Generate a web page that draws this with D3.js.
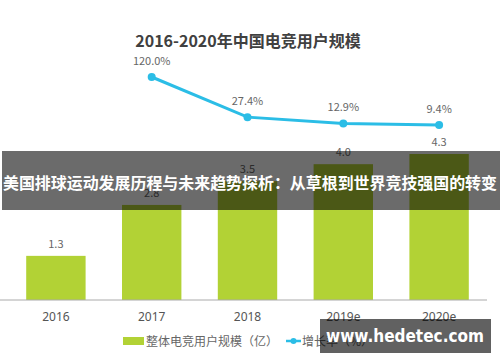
<!DOCTYPE html>
<html>
<head>
<meta charset="utf-8">
<script src="https://cdn.jsdelivr.net/npm/d3@7"></script>
<style>
  body { margin: 0; background: #fff; }
  svg { display: block; font-family: "Noto Sans CJK SC", "Noto Sans", sans-serif; }
</style>
</head>
<body>
<svg id="viz"></svg>
<script>
/* Data */

const years = ["2016", "2017", "2018", "2019e", "2020e"];
const users = [1.3, 2.8, 3.5, 4.0, 4.3];
const growthYears = ["2017", "2018", "2019e", "2020e"];
const growth = [120.0, 27.4, 12.9, 9.4];
const title = "2016-2020年中国电竞用户规模";
const banner = "美国排球运动发展历程与未来趋势探析：从草根到世界竞技强国的转变";
const legendBar = "整体电竞用户规模（亿）";
const legendLine = "增长率（%）";
const watermark = "www.hedetec.com";

/* Environment */

const width = 500;
const height = 362;
const baseline = 300;

const svg = d3.select('#viz')
    .attr('width', width)
    .attr('height', height);

/* Scales */

let x = d3.scaleBand()
    .domain(years)
    .range([8, 487])
    .paddingInner(0.38)
    .paddingOuter(0.19);

let y = d3.scaleLinear()
    .domain([0, 4.3])
    .range([baseline, 154]);

let yLine = d3.scaleLinear()
    .domain([0, 120])
    .range([129, 77]);

/* Title */

svg.append("text")
    .attr("x", 248)
    .attr("y", 47)
    .attr("text-anchor", "middle")
    .attr("font-size", 16)
    .attr("font-weight", "bold")
    .attr("fill", "#404040")
    .text(title);

/* Bars */

svg.append("g").selectAll("rect")
    .data(users)
    .enter().append("rect")
    .attr("x", (d, i) => x(years[i]))
    .attr("y", d => y(d))
    .attr("width", x.bandwidth())
    .attr("height", d => baseline - y(d))
    .attr("fill", "#b2d235");

svg.append("g").selectAll("text")
    .data(users)
    .enter().append("text")
    .attr("x", (d, i) => x(years[i]) + x.bandwidth() / 2)
    .attr("y", d => y(d) - 8)
    .attr("text-anchor", "middle")
    .attr("font-size", 11)
    .attr("fill", "#666")
    .text(d => d.toFixed(1));

/* Axis */

const gX = svg.append("g")
    .attr("transform", `translate(0,${baseline})`)
    .call(d3.axisBottom(x).tickSize(0).tickPadding(12))
    .call(g => g.select(".domain").attr("d", "M0,0H487").attr("stroke", "#aaa"));

gX.selectAll("text")
    .attr("font-size", 12)
    .attr("fill", "#555")
    .attr("font-family", "\"Noto Sans\", sans-serif");

/* Line */

const cx = d => x(d) + x.bandwidth() / 2;

svg.append("path")
    .datum(growth)
    .attr("fill", "none")
    .attr("stroke", "#2bbde6")
    .attr("stroke-width", 3)
    .attr("d", d3.line()
        .x((d, i) => cx(growthYears[i]))
        .y(d => yLine(d)));

svg.append("g").selectAll("circle")
    .data(growth)
    .enter().append("circle")
    .attr("cx", (d, i) => cx(growthYears[i]))
    .attr("cy", d => yLine(d))
    .attr("r", 4)
    .attr("fill", "#2bbde6");

svg.append("g").selectAll("text")
    .data(growth)
    .enter().append("text")
    .attr("x", (d, i) => cx(growthYears[i]))
    .attr("y", d => yLine(d) - 12)
    .attr("text-anchor", "middle")
    .attr("font-size", 11)
    .attr("fill", "#666")
    .text(d => d.toFixed(1) + "%");

/* Legend */

const gLegend = svg.append("g")
    .attr("font-size", 12)
    .attr("fill", "#666");

gLegend.append("rect")
    .attr("x", 123).attr("y", 337)
    .attr("width", 21).attr("height", 8)
    .attr("fill", "#b2d235");

gLegend.append("text")
    .attr("x", 146).attr("y", 345.5)
    .text(legendBar);

gLegend.append("line")
    .attr("x1", 286).attr("x2", 301)
    .attr("y1", 341).attr("y2", 341)
    .attr("stroke", "#2bbde6").attr("stroke-width", 2.5);

gLegend.append("circle")
    .attr("cx", 293.5).attr("cy", 341).attr("r", 3)
    .attr("fill", "#2bbde6");

gLegend.append("text")
    .attr("x", 302).attr("y", 345.5)
    .text(legendLine);

/* Overlays */

svg.append("rect")
    .attr("x", 2).attr("y", 151)
    .attr("width", 498).attr("height", 59)
    .attr("fill", "rgba(0,0,0,0.58)");

svg.append("text")
    .attr("x", 250).attr("y", 189)
    .attr("text-anchor", "middle")
    .attr("font-size", 16)
    .attr("font-weight", "bold")
    .attr("fill", "#fff")
    .attr("textLength", 494)
    .attr("lengthAdjust", "spacingAndGlyphs")
    .text(banner);

svg.append("rect")
    .attr("x", 320).attr("y", 319)
    .attr("width", 171).attr("height", 34)
    .attr("fill", "rgba(0,0,0,0.62)");

svg.append("text")
    .attr("x", 405).attr("y", 342)
    .attr("text-anchor", "middle")
    .attr("font-size", 17)
    .attr("font-weight", "bold")
    .attr("fill", "#fff")
    .attr("font-family", "\"DejaVu Sans\", sans-serif")
    .attr("textLength", 158)
    .attr("lengthAdjust", "spacingAndGlyphs")
    .text(watermark);
</script>
</body>
</html>
